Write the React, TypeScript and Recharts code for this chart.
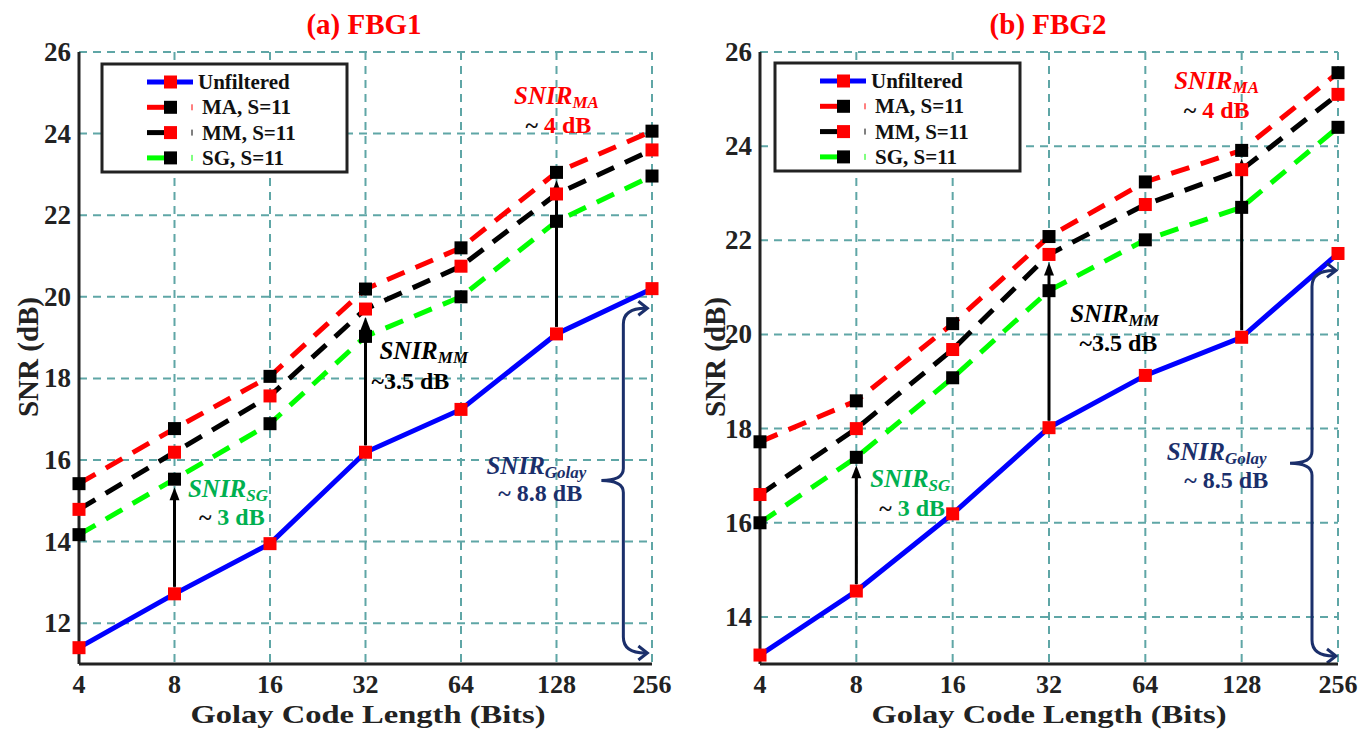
import React from "react";
import {
  LineChart,
  Line,
  XAxis,
  YAxis,
  CartesianGrid,
  ReferenceLine,
  ReferenceDot,
} from "recharts";

// Golay code length (bits) on the x axis
const codeLengths = [4, 8, 16, 32, 64, 128, 256];

// (a) FBG1 SNR values (dB)
const fbg1Unfiltered = [11.4, 12.72, 13.95, 16.19, 17.24, 19.09, 20.2];
const fbg1MA = [15.42, 16.77, 18.05, 20.19, 21.2, 23.05, 24.06];
const fbg1MM = [14.79, 16.19, 17.57, 19.7, 20.75, 22.52, 23.6];
const fbg1SG = [14.17, 15.53, 16.89, 19.03, 20.0, 21.85, 22.96];

// (b) FBG2 SNR values (dB)
const fbg2Unfiltered = [13.19, 14.55, 16.19, 18.02, 19.13, 19.94, 21.72];
const fbg2MA = [17.72, 18.59, 20.23, 22.08, 23.24, 23.91, 25.56];
const fbg2MM = [16.6, 18.0, 19.68, 21.7, 22.76, 23.5, 25.1];
const fbg2SG = [16.0, 17.39, 19.08, 20.93, 22.01, 22.7, 24.4];

const fbg1Ticks = [12, 14, 16, 18, 20, 22, 24, 26];
const fbg2Ticks = [14, 16, 18, 20, 22, 24, 26];

const FONT = "'Liberation Serif', 'Times New Roman', serif";
const GRID = "#5fa6a6";
const NAVY = "#1b2f6b";
const GREEN_TXT = "#00b050";

const series = [
  { key: "unf", name: "Unfiltered", stroke: "#0000ff", marker: "#ff0000", dash: undefined },
  { key: "ma", name: "MA, S=11", stroke: "#ff0000", marker: "#000000", dash: "19 12" },
  { key: "mm", name: "MM, S=11", stroke: "#000000", marker: "#ff0000", dash: "19 12" },
  { key: "sg", name: "SG, S=11", stroke: "#00ff00", marker: "#000000", dash: "19 12" },
];

const xPos = codeLengths.map((b) => Math.log2(b));

const buildRows = (unf: number[], ma: number[], mm: number[], sg: number[]) =>
  codeLengths.map((b, i) => ({ x: xPos[i], unf: unf[i], ma: ma[i], mm: mm[i], sg: sg[i] }));

const XTick = (p: any) => (
  <text x={p.x} y={p.y} dy={23} textAnchor="middle" fontFamily={FONT} fontWeight="bold" fontSize={26} fill="#222">
    {Math.round(2 ** p.payload.value)}
  </text>
);

const YTick = (p: any) => (
  <text x={p.x} y={p.y} dy={9} textAnchor="end" fontFamily={FONT} fontWeight="bold" fontSize={27} fill="#222">
    {p.payload.value}
  </text>
);

const arrowShape = (p: any) => {
  const { x1, y1, y2 } = p;
  const start = y1 - 7;
  const tip = y2 + 8;
  return (
    <g>
      <line x1={x1} y1={start} x2={x1} y2={tip + 10} stroke="#000" strokeWidth={3} />
      <polygon points={`${x1 - 5},${tip + 13} ${x1 + 5},${tip + 13} ${x1},${tip}`} fill="#000" />
    </g>
  );
};

const braceShape = (p: any) => {
  const top = Math.min(p.y1, p.y2);
  const bot = Math.max(p.y1, p.y2);
  const mid = (top + bot) / 2;
  const x = p.x1;
  const tx = x + 24;
  const d = `M ${tx - 2} ${top} Q ${x} ${top} ${x} ${top + 16} L ${x} ${mid - 12} Q ${x} ${mid} ${x - 22} ${mid} Q ${x} ${mid} ${x} ${mid + 12} L ${x} ${bot - 16} Q ${x} ${bot} ${tx - 2} ${bot}`;
  return (
    <g fill="none" stroke={NAVY} strokeWidth={3}>
      <path d={d} />
      <path d={`M ${tx - 9} ${top - 7} L ${tx} ${top} L ${tx - 9} ${top + 7}`} />
      <path d={`M ${tx - 9} ${bot - 7} L ${tx} ${bot} L ${tx - 9} ${bot + 7}`} />
    </g>
  );
};

type Note = { x: number; y: number; sub?: string; text: string; color: string; tilde?: boolean };

const noteShape = (n: Note) => (p: any) => {
  if (n.sub) {
    return (
      <text x={p.cx} y={p.cy} dominantBaseline="central" textAnchor="middle" fontFamily={FONT} fontWeight="bold" fontStyle="italic" fontSize={25} fill={n.color}>
        <tspan>{n.text}</tspan>
        <tspan dy={7} fontSize={17}>{n.sub}</tspan>
      </text>
    );
  }
  return (
    <text x={p.cx} y={p.cy} dominantBaseline="central" textAnchor="middle" fontFamily={FONT} fontWeight="bold" fontSize={24} fill={n.color}>
      {n.tilde ? <tspan fill="#111">~ </tspan> : null}
      <tspan>{n.text}</tspan>
    </text>
  );
};

type PanelProps = {
  rows: any[];
  yDomain: [number, number];
  yTicks: number[];
  width: number;
  margin: { top: number; right: number; bottom: number; left: number };
  arrows: { x: number; from: number; to: number }[];
  brace: { x: number; from: number; to: number };
  notes: Note[];
};

const Panel = ({ rows, yDomain, yTicks, width, margin, arrows, brace, notes }: PanelProps) => (
  <LineChart width={width} height={729} data={rows} margin={margin}>
    <CartesianGrid stroke={GRID} strokeWidth={2} strokeDasharray="8 6" />
    <XAxis
      dataKey="x"
      type="number"
      domain={[2, 8]}
      ticks={xPos}
      interval={0}
      height={40}
      tickSize={0}
      tickMargin={6}
      tickLine={false}
      axisLine={{ stroke: "#222", strokeWidth: 3 }}
      tick={XTick}
    />
    <XAxis xAxisId="top" orientation="top" mirror type="number" domain={[2, 8]} ticks={xPos} interval={0} height={0} tick={false} tickSize={8} tickLine={{ stroke: "#222", strokeWidth: 2 }} axisLine={{ stroke: "#222", strokeWidth: 3 }} />
    <XAxis xAxisId="bin" orientation="bottom" mirror type="number" domain={[2, 8]} ticks={xPos} interval={0} height={0} tick={false} tickSize={8} tickLine={{ stroke: "#222", strokeWidth: 2 }} axisLine={false} />
    <YAxis
      type="number"
      domain={yDomain}
      ticks={yTicks}
      interval={0}
      width={60}
      tickSize={0}
      tickMargin={8}
      tickLine={false}
      axisLine={{ stroke: "#222", strokeWidth: 3 }}
      tick={YTick}
    />
    <YAxis yAxisId="right" orientation="right" mirror type="number" domain={yDomain} ticks={yTicks} interval={0} width={0} tick={false} tickSize={8} tickLine={{ stroke: "#222", strokeWidth: 2 }} axisLine={{ stroke: "#222", strokeWidth: 3 }} />
    <YAxis yAxisId="lin" orientation="left" mirror type="number" domain={yDomain} ticks={yTicks} interval={0} width={0} tick={false} tickSize={8} tickLine={{ stroke: "#222", strokeWidth: 2 }} axisLine={false} />
    {series.map((s) => (
      <Line
        key={s.key}
        dataKey={s.key}
        type="linear"
        stroke={s.stroke}
        strokeWidth={5}
        strokeDasharray={s.dash}
        isAnimationActive={false}
        dot={(p: any) => (
          <rect key={`${s.key}-${p.index}`} x={p.cx - 6.5} y={p.cy - 6.5} width={13} height={13} fill={s.marker} />
        )}
        activeDot={false}
      />
    ))}
    {arrows.map((a, i) => (
      <ReferenceLine
        key={`arrow-${i}`}
        segment={[
          { x: a.x, y: a.from },
          { x: a.x, y: a.to },
        ]}
        shape={arrowShape}
      />
    ))}
    <ReferenceLine
      segment={[
        { x: brace.x, y: brace.to },
        { x: brace.x, y: brace.from },
      ]}
      shape={braceShape}
    />
    {notes.map((n, i) => (
      <ReferenceDot key={`note-${i}`} x={n.x} y={n.y} r={0} shape={noteShape(n)} />
    ))}
  </LineChart>
);

const LegendBox = ({ left, top }: { left: number; top: number }) => (
  <g>
    <rect x={left} y={top} width={245} height={108} fill="#fff" stroke="#222" strokeWidth={3} />
    {series.map((s, i) => {
      const cy = top + 18 + i * 25.3;
      const x0 = left + 45;
      return (
        <g key={s.key}>
          {i === 0 ? (
            <line x1={x0} y1={cy} x2={x0 + 46} y2={cy} stroke={s.stroke} strokeWidth={5} />
          ) : (
            <>
              <line x1={x0} y1={cy} x2={x0 + 22} y2={cy} stroke={s.stroke} strokeWidth={5} />
              <line x1={x0 + 45} y1={cy - 3} x2={x0 + 45} y2={cy + 3} stroke={s.stroke} strokeWidth={1} />
            </>
          )}
          <rect x={x0 + 17} y={cy - 6.5} width={13} height={13} fill={s.marker} />
          <text x={left + (i === 0 ? 96 : 100)} y={cy} dominantBaseline="central" fontFamily={FONT} fontWeight="bold" fontSize={21} fill="#111">
            {s.name}
          </text>
        </g>
      );
    })}
  </g>
);

const fbg1Notes: Note[] = [
  { x: 7, y: 24.95, text: "SNIR", sub: "MA", color: "#ff0000" },
  { x: 7.02, y: 24.21, text: "4 dB", color: "#ff0000", tilde: true },
  { x: 5.61, y: 18.7, text: "SNIR", sub: "MM", color: "#000" },
  { x: 5.47, y: 17.94, text: "~3.5 dB", color: "#000" },
  { x: 3.56, y: 15.31, text: "SNIR", sub: "SG", color: GREEN_TXT },
  { x: 3.6, y: 14.6, text: "3 dB", color: GREEN_TXT, tilde: true },
  { x: 6.79, y: 15.88, text: "SNIR", sub: "Golay", color: NAVY },
  { x: 6.83, y: 15.2, text: "~ 8.8 dB", color: NAVY },
];

const fbg2Notes: Note[] = [
  { x: 6.74, y: 25.4, text: "SNIR", sub: "MA", color: "#ff0000" },
  { x: 6.74, y: 24.77, text: " 4 dB", color: "#ff0000", tilde: true },
  { x: 5.68, y: 20.45, text: "SNIR", sub: "MM", color: "#000" },
  { x: 5.72, y: 19.81, text: "~3.5 dB", color: "#000" },
  { x: 3.56, y: 16.96, text: "SNIR", sub: "SG", color: GREEN_TXT },
  { x: 3.58, y: 16.32, text: "3 dB", color: GREEN_TXT, tilde: true },
  { x: 6.74, y: 17.53, text: "SNIR", sub: "Golay", color: NAVY },
  { x: 6.84, y: 16.9, text: "~ 8.5 dB", color: NAVY },
];

export default function App() {
  const rows1 = buildRows(fbg1Unfiltered, fbg1MA, fbg1MM, fbg1SG);
  const rows2 = buildRows(fbg2Unfiltered, fbg2MA, fbg2MM, fbg2SG);
  return (
    <div style={{ position: "fixed", left: 0, top: 0, width: 1363, height: 729, background: "#fff", overflow: "hidden" }}>
      <div style={{ position: "absolute", left: 0, top: 0 }}>
        <Panel
          rows={rows1}
          yDomain={[11, 26]}
          yTicks={fbg1Ticks}
          width={690}
          margin={{ top: 52, right: 38, bottom: 25, left: 19 }}
          arrows={[
            { x: xPos[1], from: fbg1Unfiltered[1], to: fbg1SG[1] },
            { x: xPos[3], from: fbg1Unfiltered[3], to: fbg1MM[3] },
            { x: xPos[5], from: fbg1Unfiltered[5], to: fbg1MA[5] },
          ]}
          brace={{ x: 7.7, from: 11.27, to: 19.72 }}
          notes={fbg1Notes}
        />
      </div>
      <div style={{ position: "absolute", left: 690, top: 0 }}>
        <Panel
          rows={rows2}
          yDomain={[13, 26]}
          yTicks={fbg2Ticks}
          width={673}
          margin={{ top: 52, right: 25, bottom: 25, left: 10 }}
          arrows={[
            { x: xPos[1], from: fbg2Unfiltered[1], to: fbg2SG[1] },
            { x: xPos[3], from: fbg2Unfiltered[3], to: fbg2MM[3] },
            { x: xPos[5], from: fbg2Unfiltered[5], to: fbg2MA[5] },
          ]}
          brace={{ x: 7.73, from: 13.17, to: 21.36 }}
          notes={fbg2Notes}
        />
      </div>
      <svg width={1363} height={729} style={{ position: "absolute", left: 0, top: 0, pointerEvents: "none" }}>
        <text x={364} y={34} textAnchor="middle" fontFamily={FONT} fontWeight="bold" fontSize={29} fill="#ff0000">(a) FBG1</text>
        <text x={1048} y={34} textAnchor="middle" fontFamily={FONT} fontWeight="bold" fontSize={29} fill="#ff0000">(b) FBG2</text>
        <text x={368} y={723} textAnchor="middle" fontFamily={FONT} fontWeight="bold" fontSize={26} textLength={355} lengthAdjust="spacingAndGlyphs" fill="#222">Golay Code Length (Bits)</text>
        <text x={1049} y={723} textAnchor="middle" fontFamily={FONT} fontWeight="bold" fontSize={26} textLength={355} lengthAdjust="spacingAndGlyphs" fill="#222">Golay Code Length (Bits)</text>
        <text transform="translate(38,357) rotate(-90)" textAnchor="middle" fontFamily={FONT} fontWeight="bold" fontSize={29} fill="#222">SNR (dB)</text>
        <text transform="translate(725,357) rotate(-90)" textAnchor="middle" fontFamily={FONT} fontWeight="bold" fontSize={29} fill="#222">SNR (dB)</text>
        <LegendBox left={102} top={64} />
        <LegendBox left={775} top={63} />
      </svg>
    </div>
  );
}
